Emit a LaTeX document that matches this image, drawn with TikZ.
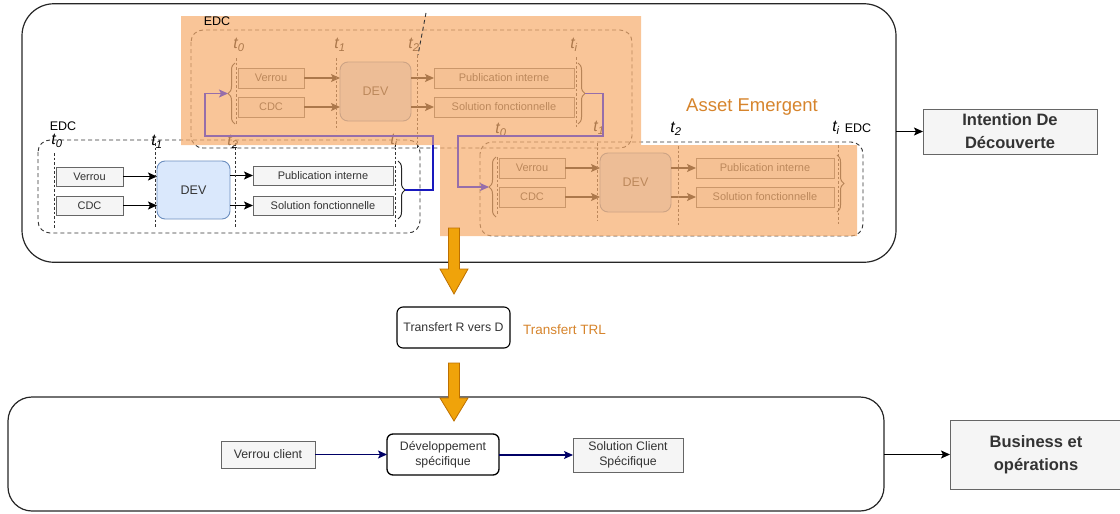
\documentclass[tikz,border=0pt]{standalone}
\usepackage{fontspec}
\setmainfont{Liberation Sans}
\usetikzlibrary{arrows.meta,decorations.pathreplacing,calc}

\definecolor{boxfill}{HTML}{F5F5F5}
\definecolor{boxline}{HTML}{666666}
\definecolor{txt}{HTML}{333333}
\definecolor{devfill}{HTML}{DAE8FC}
\definecolor{devline}{HTML}{6C8EBF}
\definecolor{peach}{RGB}{246,172,108}
\definecolor{orangetxt}{RGB}{214,132,44}
\definecolor{blockfill}{HTML}{F0A30A}
\definecolor{blockline}{HTML}{BD7000}
\definecolor{navy}{HTML}{000066}
\definecolor{purp}{RGB}{150,110,170}
\definecolor{bluec}{RGB}{25,25,190}
\definecolor{dashcol}{HTML}{333333}

\newcommand{\blockdown}[3]{%
  \draw[blockstyle] ($(#1)+(-5.5,0)$) -- ($(#1)+(5.5,0)$) -- ($(#2)+(5.5,-#3)$)
    -- ($(#2)+(14,-#3)$) -- (#2) -- ($(#2)+(-14,-#3)$) -- ($(#2)+(-5.5,-#3)$) -- cycle;}

\begin{document}
\begin{tikzpicture}[x=1pt,y=-1pt,
  every node/.style={inner sep=0pt, outer sep=0pt},
  graybox/.style={draw=boxline, fill=boxfill, text=txt, line width=0.9pt,
    font=\fontsize{11}{12}\selectfont},
  devbox/.style={draw=devline, fill=devfill, text=txt, rounded corners=8pt,
    line width=0.9pt, font=\fontsize{12.5}{14}\selectfont},
  bigbox/.style={draw=black!85, line width=1.2pt},
  bigtext/.style={draw=boxline, fill=boxfill, text=txt, line width=1pt, align=center,
    font=\fontsize{16.5}{23}\selectfont\bfseries},
  roundbox/.style={draw=black, line width=1.1pt, rounded corners=6pt, text=txt, align=center,
    font=\fontsize{12.3}{14.5}\selectfont},
  tline/.style={draw=dashcol, line width=1pt, dash pattern=on 2.5pt off 2pt},
  edcrect/.style={draw=dashcol, line width=0.9pt, dash pattern=on 4pt off 3pt, rounded corners=12pt},
  tlab/.style={text=black, font=\fontsize{16}{16}\selectfont\itshape},
  edclab/.style={text=black, font=\fontsize{12.5}{12.5}\selectfont},
  flow/.style={draw=black, line width=1.2pt, -{Stealth[length=9pt,width=8pt,inset=2pt]}},
  bigflow/.style={draw=black, line width=1.1pt, -{Stealth[length=9pt,width=8pt,inset=2pt]}},
  navyflow/.style={draw=navy, line width=1.1pt, -{Stealth[length=9pt,width=8pt,inset=2pt]}},
  purpflow/.style={draw=purp, line width=1.1pt, -{Stealth[length=9pt,width=8pt,inset=2pt]}},
  bracestyle/.style={draw=black!85, line width=1pt, decorate, decoration={brace, amplitude=7pt}},
  blockstyle/.style={draw=blockline, fill=blockfill, line width=0.8pt, line join=miter},
]
\useasboundingbox (0,0) rectangle (1120,514);

% ---------- big frames ----------
\node[bigbox, rounded corners=32pt, minimum width=874pt, minimum height=258.5pt] (topbox) at (459,133) {};
\node[bigbox, rounded corners=24pt, minimum width=876pt, minimum height=114pt] (botbox) at (446,454) {};

% ---------- EDC A (top, faded) ----------
\draw[edcrect] (191,30) rectangle (632,148);
\node[graybox, minimum width=66pt, minimum height=20pt] (vA) at (271,78) {Verrou};
\node[graybox, minimum width=66pt, minimum height=20pt] (cA) at (271,107) {CDC};
\node[devbox, minimum width=71pt, minimum height=59pt] (dA) at (375.5,91.5) {DEV};
\node[graybox, minimum width=140pt, minimum height=20pt] (pA) at (504,78) {Publication interne};
\node[graybox, minimum width=140pt, minimum height=20pt] (sA) at (504,107) {Solution fonctionnelle};
\draw[flow] (vA.east) -- (vA.east -| dA.west);
\draw[flow] (cA.east) -- (cA.east -| dA.west);
\draw[flow] (dA.east |- pA.west) -- (pA.west);
\draw[flow] (dA.east |- sA.west) -- (sA.west);
\draw[tline] (236,58) -- (236,125);
\draw[tline] (336,58) -- (336,130);
\draw[tline] (417,55) -- (417,148);
\draw[tline] (576,57) -- (576,128);
\draw[bracestyle] (235,124) -- (235,63);
\draw[bracestyle] (578,63) -- (578,124);
\coordinate (bAl) at (228,93.5);
\coordinate (bAr) at (585,93.5);
\node[tlab] (tA0) at (239,45) {t\textsubscript{0}};
\node[tlab] (tA1) at (340,45) {t\textsubscript{1}};
\node[tlab] (tA2) at (414,45) {t\textsubscript{2}};
\node[tlab] (tAi) at (574,45) {t\textsubscript{i}};

% ---------- EDC B (left) ----------
\draw[edcrect] (38,140) rectangle (420,233);
\node[graybox, minimum width=67pt, minimum height=19pt] (vB) at (89.5,176.5) {Verrou};
\node[graybox, minimum width=67pt, minimum height=19pt] (cB) at (89.5,205.5) {CDC};
\node[devbox, minimum width=73pt, minimum height=58pt] (dB) at (193.5,190) {DEV};
\node[graybox, minimum width=140pt, minimum height=19pt] (pB) at (323,175.5) {Publication interne};
\node[graybox, minimum width=140pt, minimum height=19pt] (sB) at (323,205.5) {Solution fonctionnelle};
\draw[flow] (vB.east) -- (vB.east -| dB.west);
\draw[flow] (cB.east) -- (cB.east -| dB.west);
\draw[flow] (dB.east |- pB.west) -- (pB.west);
\draw[flow] (dB.east |- sB.west) -- (sB.west);
\draw[tline] (54,153) -- (54,228);
\draw[tline] (155,143) -- (155,228);
\draw[tline] (235,143) -- (235,228);
\draw[tline] (395,143) -- (395,228);
\draw[bracestyle] (398,161) -- (398,219);
\coordinate (bBr) at (405,190);
\node[tlab] (tB0) at (57,141) {t\textsubscript{0}};
\node[tlab] (tB1) at (157,142) {t\textsubscript{1}};
\node[tlab] (tB2) at (233,142) {t\textsubscript{2}};
\node[tlab] (tBi) at (394,141) {t\textsubscript{i}};
\node[edclab] (eB) at (63,126) {EDC};

% ---------- EDC C (right, faded) ----------
\draw[edcrect] (480,142) rectangle (863,236);
\node[graybox, minimum width=66pt, minimum height=20pt] (vC) at (532,168) {Verrou};
\node[graybox, minimum width=66pt, minimum height=20pt] (cC) at (532,197) {CDC};
\node[devbox, minimum width=71pt, minimum height=59pt] (dC) at (635.5,182.5) {DEV};
\node[graybox, minimum width=138pt, minimum height=20pt] (pC) at (765,168) {Publication interne};
\node[graybox, minimum width=138pt, minimum height=20pt] (sC) at (765,197) {Solution fonctionnelle};
\draw[flow] (vC.east) -- (vC.east -| dC.west);
\draw[flow] (cC.east) -- (cC.east -| dC.west);
\draw[flow] (dC.east |- pC.west) -- (pC.west);
\draw[flow] (dC.east |- sC.west) -- (sC.west);
\draw[tline] (497,157) -- (497,215);
\draw[tline] (597,143) -- (597,220);
\draw[tline] (678,146) -- (678,225);
\draw[tline] (838,145) -- (838,225);
\draw[bracestyle] (496,217) -- (496,157);
\draw[bracestyle] (837,155) -- (837,212);
\coordinate (bCl) at (489,187);
\node[tlab] (tC0) at (501,130) {t\textsubscript{0}};
\node[tlab] (tC1) at (599,128) {t\textsubscript{1}};
\node[tlab] (tC2) at (676,129) {t\textsubscript{2}};
\node[tlab] (tCi) at (836,128) {t\textsubscript{i}};
\node[edclab] (eC) at (858,128) {EDC};

% ---------- orange overlays ----------
\fill[peach, opacity=0.7] (181,16) rectangle (641,145) (440,145) rectangle (857,236);

% ---------- items on top of overlays ----------
\node[edclab] (eA) at (217,21) {EDC};
\draw[dashcol, line width=0.9pt, dash pattern=on 4pt off 3pt] (426,13) -- (418,55);
\node[text=orangetxt, font=\fontsize{18.5}{20}\selectfont] (asset) at (752,107) {Asset Emergent};

\coordinate (k1) at (433,136);
\coordinate (k2) at (205,136);
\draw[purpflow] (bBr) -| (k1) -- (k2) |- (bAl);
\draw[draw=bluec, line width=1.1pt] (bBr) -| (433,145);
\coordinate (k3) at (603,136);
\coordinate (k4) at (458,136);
\draw[purpflow] (bAr) -| (k3) -- (k4) |- (bCl);

% ---------- right side boxes ----------
\node[bigtext, minimum width=174pt, minimum height=45pt] (intent) at (1010,131.5) {Intention De\\Découverte};
\draw[bigflow] (topbox.east |- intent.west) -- (intent.west);
\node[bigtext, minimum width=172pt, minimum height=69pt] (busi) at (1036,454.5) {Business et\\opérations};
\draw[bigflow] (botbox.east |- busi.west) -- (busi.west);

% ---------- transfer ----------
\node[roundbox, minimum width=113pt, minimum height=41pt] (trans) at (453.5,327.5) {Transfert R vers D};
\node[text=orangetxt, font=\fontsize{13.5}{14}\selectfont] (trl) at (564.5,330) {Transfert TRL};
\coordinate (a1s) at (454,228);
\coordinate (a1t) at ($(trans.north)+(0.5,-13)$);
\blockdown{a1s}{a1t}{25}
\coordinate (a2s) at ($(trans.south)+(0.5,15)$);
\coordinate (a2t) at (454,421);
\blockdown{a2s}{a2t}{23}

% ---------- bottom row ----------
\node[graybox, minimum width=94pt, minimum height=27pt, font=\fontsize{12.3}{14.5}\selectfont] (vcl) at (268,454.5) {Verrou client};
\node[roundbox, line width=1.3pt, minimum width=112pt, minimum height=41pt, font=\fontsize{12.3}{14.5}\selectfont] (dev2) at (443,454.5) {Développement\\spécifique};
\node[graybox, align=center, minimum width=110pt, minimum height=34pt, font=\fontsize{12.3}{14.5}\selectfont] (scs) at (628,455) {Solution Client\\Spécifique};
\draw[navyflow] (vcl.east) -- (vcl.east -| dev2.west);
\draw[navyflow] (dev2.east |- scs.west) -- (scs.west);
\end{tikzpicture}
\end{document}
